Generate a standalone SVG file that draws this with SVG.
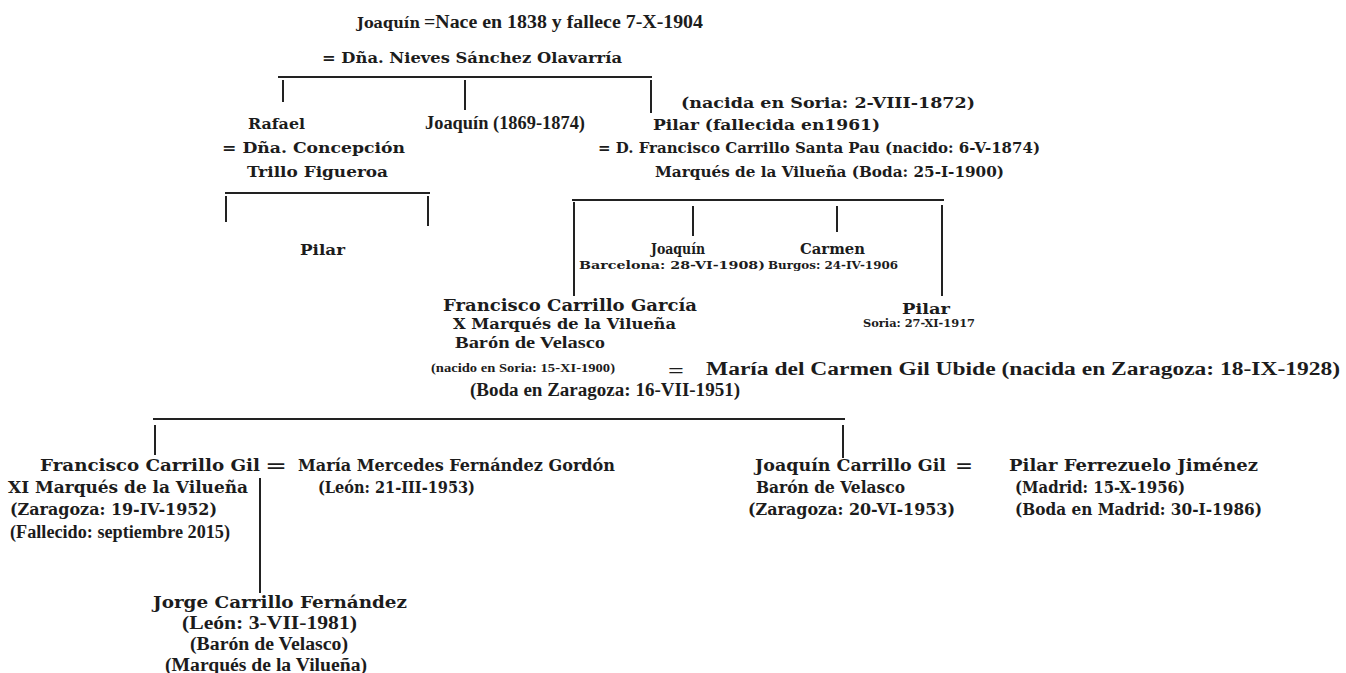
<svg xmlns="http://www.w3.org/2000/svg" width="1346" height="673" viewBox="0 0 1346 673">
<style>
text{fill:#1c1c1c;font-weight:bold}
.c{font-family:"DejaVu Serif",serif;font-size:15px}
.cs{font-family:"DejaVu Serif",serif;font-size:11.5px}
.t{font-family:"Liberation Serif",serif;font-size:18px}
.ts{font-family:"Liberation Serif",serif;font-size:12px}
.b{font-family:"DejaVu Serif",serif;font-size:16px}
.ln{stroke:#222;stroke-width:2;fill:none}
</style>
<rect width="1346" height="673" fill="#fff"/>
<g id="connectors" class="ln">
<path d="M278 77H652M283 80V102M465 80V110M651 80V113"/>
<path d="M225 193H430M226 196V222M428 196V226"/>
<path d="M572 200H944M574 202V296M693 206V236M837 206V232M942 205V296"/>
<path d="M153 419H845M155 425V455M843 425V458"/>
<path d="M260 478V593"/>
</g>
<g id="joaquin-root">
<text class="c" x="357" y="28" textLength="63" lengthAdjust="spacingAndGlyphs">Joaquín</text>
<text class="t" x="424" y="28" textLength="279" lengthAdjust="spacingAndGlyphs">=Nace en 1838 y fallece 7-X-1904</text>
<text class="c" x="322" y="63" textLength="300" lengthAdjust="spacingAndGlyphs">= Dña. Nieves Sánchez Olavarría</text>
</g>
<g id="rafael">
<text class="c" x="248" y="129" textLength="57" lengthAdjust="spacingAndGlyphs">Rafael</text>
<text class="c" x="222" y="153" textLength="183" lengthAdjust="spacingAndGlyphs">= Dña. Concepción</text>
<text class="c" x="247" y="177" textLength="141" lengthAdjust="spacingAndGlyphs">Trillo Figueroa</text>
</g>
<g id="joaquin-1869">
<text class="t" x="425" y="129" textLength="160" lengthAdjust="spacingAndGlyphs">Joaquín (1869-1874)</text>
</g>
<g id="pilar-1872">
<text class="c" x="681" y="108" textLength="294" lengthAdjust="spacingAndGlyphs">(nacida en Soria: 2-VIII-1872)</text>
<text class="c" x="653" y="130" textLength="227" lengthAdjust="spacingAndGlyphs">Pilar (fallecida en1961)</text>
<text class="c" x="598" y="153" textLength="442" lengthAdjust="spacingAndGlyphs">= D. Francisco Carrillo Santa Pau (nacido: 6-V-1874)</text>
<text class="c" x="655" y="177" textLength="349" lengthAdjust="spacingAndGlyphs">Marqués de la Vilueña (Boda: 25-I-1900)</text>
</g>
<g id="pilar-rafael">
<text class="c" x="300" y="255" textLength="45" lengthAdjust="spacingAndGlyphs">Pilar</text>
</g>
<g id="joaquin-1908">
<text class="c" x="651" y="254" textLength="54" lengthAdjust="spacingAndGlyphs">Joaquín</text>
<text class="cs" x="579" y="269" textLength="186" lengthAdjust="spacingAndGlyphs">Barcelona: 28-VI-1908)</text>
</g>
<g id="carmen">
<text class="c" x="800" y="254" textLength="65" lengthAdjust="spacingAndGlyphs">Carmen</text>
<text class="cs" x="768" y="269" textLength="130" lengthAdjust="spacingAndGlyphs">Burgos: 24-IV-1906</text>
</g>
<g id="pilar-1917">
<text class="c" x="902" y="314" textLength="48" lengthAdjust="spacingAndGlyphs">Pilar</text>
<text class="cs" x="863" y="327" textLength="112" lengthAdjust="spacingAndGlyphs">Soria: 27-XI-1917</text>
</g>
<g id="francisco-garcia">
<text class="b" x="443" y="311" textLength="254" lengthAdjust="spacingAndGlyphs">Francisco Carrillo García</text>
<text class="c" x="453" y="329" textLength="223" lengthAdjust="spacingAndGlyphs" style="font-size:14px">X Marqués de la Vilueña</text>
<text class="t" x="455" y="348" textLength="150" lengthAdjust="spacingAndGlyphs" style="font-size:16px">Barón de Velasco</text>
<text class="ts" x="431" y="372" textLength="184" lengthAdjust="spacingAndGlyphs">(nacido en Soria: 15-XI-1900)</text>
<text class="t" x="668" y="377" textLength="16" lengthAdjust="spacingAndGlyphs">=</text>
<text class="t" x="706" y="375" textLength="634" lengthAdjust="spacingAndGlyphs">María del Carmen Gil Ubide (nacida en Zaragoza: 18-IX-1928)</text>
<text class="t" x="470" y="396" textLength="270" lengthAdjust="spacingAndGlyphs">(Boda en Zaragoza: 16-VII-1951)</text>
</g>
<g id="francisco-gil">
<text class="b" x="40" y="471" textLength="220" lengthAdjust="spacingAndGlyphs">Francisco Carrillo Gil</text>
<text class="b" x="265" y="471" textLength="22" lengthAdjust="spacingAndGlyphs">=</text>
<text class="b" x="298" y="471" textLength="317" lengthAdjust="spacingAndGlyphs">María Mercedes Fernández Gordón</text>
<text class="b" x="8" y="493" textLength="240" lengthAdjust="spacingAndGlyphs">XI Marqués de la Vilueña</text>
<text class="b" x="318" y="493" textLength="157" lengthAdjust="spacingAndGlyphs">(León: 21-III-1953)</text>
<text class="b" x="10" y="515" textLength="207" lengthAdjust="spacingAndGlyphs">(Zaragoza: 19-IV-1952)</text>
<text class="t" x="10" y="538" textLength="220" lengthAdjust="spacingAndGlyphs">(Fallecido: septiembre 2015)</text>
</g>
<g id="jorge">
<text class="b" x="153" y="608" textLength="254" lengthAdjust="spacingAndGlyphs">Jorge Carrillo Fernández</text>
<text class="t" x="182" y="629" textLength="175" lengthAdjust="spacingAndGlyphs">(León: 3-VII-1981)</text>
<text class="t" x="190" y="650" textLength="158" lengthAdjust="spacingAndGlyphs">(Barón de Velasco)</text>
<text class="t" x="165" y="671" textLength="202" lengthAdjust="spacingAndGlyphs">(Marqués de la Vilueña)</text>
</g>
<g id="joaquin-gil">
<text class="b" x="755" y="471" textLength="191" lengthAdjust="spacingAndGlyphs">Joaquín Carrillo Gil</text>
<text class="b" x="955" y="471" textLength="18" lengthAdjust="spacingAndGlyphs">=</text>
<text class="b" x="1009" y="471" textLength="249" lengthAdjust="spacingAndGlyphs">Pilar Ferrezuelo Jiménez</text>
<text class="b" x="756" y="493" textLength="149" lengthAdjust="spacingAndGlyphs">Barón de Velasco</text>
<text class="b" x="748" y="515" textLength="207" lengthAdjust="spacingAndGlyphs">(Zaragoza: 20-VI-1953)</text>
<text class="b" x="1015" y="493" textLength="170" lengthAdjust="spacingAndGlyphs">(Madrid: 15-X-1956)</text>
<text class="b" x="1015" y="515" textLength="247" lengthAdjust="spacingAndGlyphs">(Boda en Madrid: 30-I-1986)</text>
</g>
</svg>
